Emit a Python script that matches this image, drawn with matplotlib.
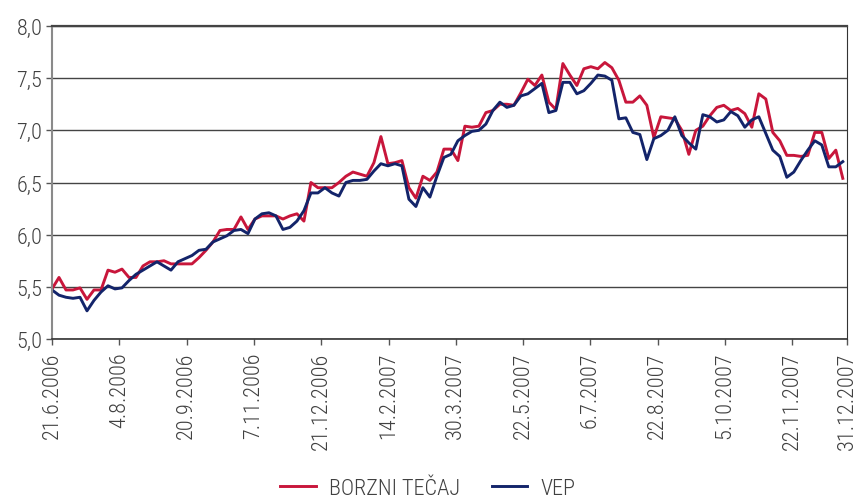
import numpy as np
import matplotlib
matplotlib.use("Agg")
import matplotlib.pyplot as plt
import logging
logging.getLogger("matplotlib.font_manager").setLevel(logging.ERROR)

tick_labels = ["21.6.2006", "4.8.2006", "20.9.2006", "7.11.2006", "21.12.2006",
               "14.2.2007", "30.3.2007", "22.5.2007", "6.7.2007", "22.8.2007",
               "5.10.2007", "22.11.2007", "31.12.2007"]
tick_days = [0, 32, 64, 96, 128, 160, 192, 224, 256, 288, 320, 352, 378]

borzni_tecaj = [
    5.48, 5.59, 5.47, 5.47, 5.49, 5.38, 5.47, 5.47, 5.66, 5.64,
    5.67, 5.59, 5.59, 5.70, 5.74, 5.74, 5.75, 5.72, 5.72, 5.72,
    5.72, 5.78, 5.85, 5.93, 6.04, 6.05, 6.05, 6.17, 6.05, 6.15,
    6.18, 6.18, 6.18, 6.15, 6.18, 6.20, 6.13, 6.50, 6.45, 6.45,
    6.45, 6.50, 6.56, 6.60, 6.58, 6.56, 6.69, 6.94, 6.68, 6.69,
    6.71, 6.45, 6.35, 6.56, 6.52, 6.60, 6.82, 6.82, 6.71,
    7.04, 7.03, 7.04, 7.17, 7.19, 7.25, 7.25, 7.24, 7.36, 7.49,
    7.43, 7.53, 7.27, 7.20, 7.64, 7.53, 7.43, 7.59, 7.61, 7.59,
    7.65, 7.60, 7.48, 7.27, 7.27, 7.33, 7.24, 6.93, 7.13, 7.12,
    7.11, 7.00, 6.77, 7.00, 7.04, 7.14, 7.22,
    7.24, 7.19, 7.21, 7.16, 7.03, 7.35, 7.30, 6.98, 6.90, 6.76,
    6.76, 6.75, 6.76, 6.98, 6.98, 6.73, 6.81, 6.54,
]
vep = [
    5.47, 5.42, 5.40, 5.39, 5.40, 5.27, 5.37, 5.45, 5.51, 5.48,
    5.49, 5.56, 5.62, 5.66, 5.70, 5.74, 5.70, 5.66, 5.74, 5.77,
    5.80, 5.85, 5.86, 5.93, 5.96, 5.99, 6.04, 6.05, 6.01, 6.15,
    6.20, 6.21, 6.18, 6.05, 6.07, 6.13, 6.23, 6.40, 6.40, 6.45,
    6.40, 6.37, 6.50, 6.52, 6.52, 6.53, 6.61, 6.68, 6.66, 6.68,
    6.66, 6.34, 6.27, 6.45, 6.36, 6.56, 6.74, 6.77, 6.90,
    6.95, 6.99, 7.00, 7.06, 7.19, 7.27, 7.22, 7.24, 7.33, 7.35,
    7.40, 7.45, 7.17, 7.19, 7.46, 7.46, 7.35, 7.38, 7.45, 7.53,
    7.52, 7.48, 7.11, 7.12, 6.98, 6.96, 6.72, 6.92, 6.95, 7.00,
    7.13, 6.95, 6.88, 6.82, 7.15, 7.13, 7.08,
    7.10, 7.18, 7.14, 7.03, 7.10, 7.13, 6.97, 6.81, 6.75, 6.55,
    6.60, 6.71, 6.81, 6.90, 6.86, 6.65, 6.65, 6.70,
]
series_names = ["BORZNI TEČAJ", "VEP"]
y_ticks = [5.0, 5.5, 6.0, 6.5, 7.0, 7.5, 8.0]

# ---- styling ----
FONT = ["Roboto Condensed", "Archivo Narrow", "DejaVu Sans"]
plt.rcParams["font.family"] = FONT
plt.rcParams["font.weight"] = "light"
RED = "#C8163B"
BLUE = "#13246A"
TXT = "#404040"

fig = plt.figure(figsize=(8.56, 5.02), dpi=100)
ax = fig.add_axes([52 / 856, 1 - 340 / 502, (847 - 52) / 856, (340 - 27) / 502])

pos = np.linspace(0, 376, len(vep))
ax.plot(pos, borzni_tecaj, color=RED, lw=2.1, label=series_names[0])
ax.plot(pos, vep, color=BLUE, lw=2.1, label=series_names[1])

ax.set_xlim(0, 378)
ax.set_ylim(5.0, 8.0)
ax.set_yticks(y_ticks)
ax.set_yticklabels([f"{v:.1f}".replace(".", ",") for v in y_ticks])
ax.set_xticks(tick_days)
ax.set_xticklabels(tick_labels, rotation=90, ha="center", va="top")

ax.grid(axis="y", color="#444444", lw=1.0)
ax.set_axisbelow(True)

ax.spines["left"].set_color("#8a8a8a")
ax.spines["left"].set_linewidth(1.5)
ax.spines["bottom"].set_color("#333333")
ax.spines["bottom"].set_linewidth(1.2)
ax.spines["right"].set_color("#333333")
ax.spines["right"].set_linewidth(0.8)
ax.spines["top"].set_color("#444444")
ax.spines["top"].set_linewidth(1.6)

ax.tick_params(axis="y", direction="out", length=4, width=1, color="#555555",
               labelsize=16, labelcolor=TXT, pad=3)
ax.tick_params(axis="x", direction="out", length=4, width=1, color="#555555",
               labelsize=16, labelcolor=TXT, pad=5)

fig.legend(loc="lower center", bbox_to_anchor=(0.5, -0.035), ncol=2, frameon=False,
           fontsize=16, labelcolor=TXT, handlelength=1.6, columnspacing=1.4,
           handletextpad=0.6)

fig.savefig("out.png", dpi=100)
